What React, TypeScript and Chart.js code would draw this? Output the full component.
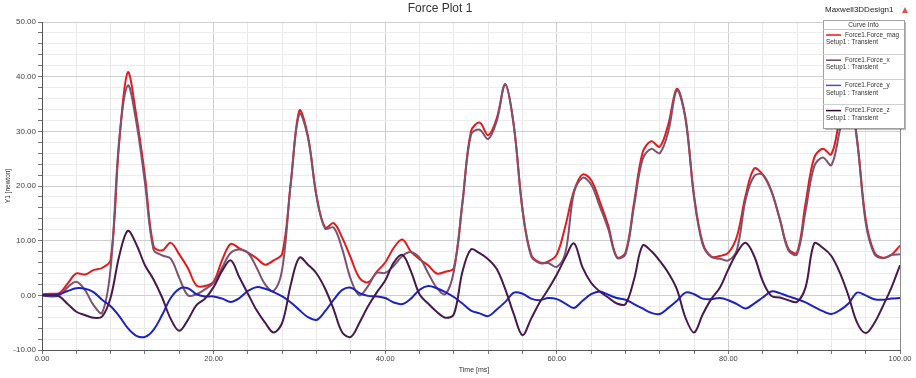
import { useEffect, useRef } from 'react';
import { Chart, registerables } from 'chart.js';

Chart.register(...registerables);

const TITLE = 'Force Plot 1';
const DESIGN_NAME = 'Maxwell3DDesign1';
const X_TITLE = 'Time [ms]';
const Y_TITLE = 'Y1 [newton]';
const LEGEND_HEADER = 'Curve Info';
const SETUP_LABEL = 'Setup1 : Transient';
const SERIES_NAMES = ['Force1.Force_mag', 'Force1.Force_x', 'Force1.Force_y', 'Force1.Force_z'];

const TIME_MS = [
  0, 1, 2, 3, 4, 5, 6, 7, 8, 9, 10, 11, 12, 13, 14, 15, 16, 17, 18, 19,
  20, 21, 22, 23, 24, 25, 26, 27, 28, 29, 30, 31, 32, 33, 34, 35, 36, 37, 38, 39,
  40, 41, 42, 43, 44, 45, 46, 47, 48, 49, 50, 51, 52, 53, 54, 55, 56, 57, 58, 59,
  60, 61, 62, 63, 64, 65, 66, 67, 68, 69, 70, 71, 72, 73, 74, 75, 76, 77, 78, 79,
  80, 81, 82, 83, 84, 85, 86, 87, 88, 89, 90, 91, 92, 93, 94, 95, 96, 97, 98, 99, 100,
];

const FORCE_MAG = [
  0.2, 0.3, 0.4, 2.2, 4.0, 3.8, 4.6, 5.0, 6.5, 28.0,
  40.8, 32.8, 21.8, 9.0, 8.2, 9.6, 7.5, 5.0, 1.8, 1.7,
  2.5, 6.5, 9.4, 8.6, 7.8, 6.8, 5.6, 6.4, 7.6, 20.6,
  33.8, 29.1, 18.2, 12.4, 13.2, 10.5, 6.8, 3.2, 2.4, 4.3,
  6.0, 8.7, 10.2, 8.0, 6.6, 5.5, 4.0, 4.3, 5.0, 16.9,
  30.0, 31.6, 29.3, 32.4, 38.6, 30.9, 15.7, 7.5, 6.0, 6.2,
  7.5, 12.7, 19.1, 22.1, 21.1, 17.2, 12.7, 7.0, 7.8, 16.9,
  26.1, 28.2, 27.2, 31.3, 37.8, 32.5, 18.2, 9.6, 7.1, 7.2,
  7.8, 10.8, 18.2, 23.2, 22.1, 19.1, 13.9, 8.5, 7.8, 16.9,
  25.2, 26.8, 25.8, 32.5, 38.0, 28.5, 13.9, 7.9, 6.9, 7.4, 9.1,
];

const FORCE_X = [
  0.0, -0.2, 0.0, 1.5, 2.5, 1.0, -1.8, -3.2, 5.0, 28.5,
  38.4, 31.6, 20.6, 8.4, 7.3, 6.7, 3.2, 0.0, 0.2, 1.1,
  2.3, 5.1, 7.8, 8.4, 7.8, 5.1, 2.0, 0.8, 4.8, 20.6,
  33.2, 28.8, 18.0, 12.2, 12.4, 8.4, 2.9, 0.0, 1.7, 4.1,
  4.1, 5.4, 7.2, 7.9, 6.9, 4.1, 1.4, 0.2, 4.4, 16.9,
  29.4, 30.3, 28.6, 31.9, 38.6, 30.9, 15.7, 7.2, 5.9, 5.9,
  5.2, 7.8, 18.8, 21.5, 20.3, 16.3, 12.1, 6.9, 7.5, 16.3,
  24.9, 26.8, 26.0, 30.0, 37.5, 32.2, 17.9, 9.3, 7.0, 6.7,
  6.4, 8.4, 17.5, 21.8, 22.1, 19.1, 13.9, 8.2, 7.5, 15.5,
  23.6, 25.2, 23.8, 30.3, 37.0, 28.2, 13.3, 7.6, 6.8, 7.4, 7.5,
];

const FORCE_Y = [
  0.0, 0.0, 0.2, 0.8, 1.3, 1.2, 0.6, -0.8, -2.0, -3.8,
  -6.0, -7.4, -7.6, -6.3, -3.6, -0.5, 1.2, 1.3, 0.2, -0.2,
  -0.2, -0.6, -1.2, -0.5, 0.8, 1.5, 1.2, 0.6, -0.2, -1.3,
  -2.7, -4.0, -4.5, -2.9, -0.8, 1.0, 1.4, 0.4, -0.1, -0.2,
  -0.5, -1.3, -1.6, -0.6, 1.0, 1.7, 1.3, 0.6, -0.3, -1.5,
  -2.8, -3.3, -3.8, -2.6, -1.2, 0.5, 0.3, -0.6, -0.9, -0.5,
  -0.7, -1.5, -2.3, -1.0, 0.2, 0.7, 0.1, -0.5, -0.8, -1.6,
  -2.4, -3.2, -3.4, -2.3, -1.0, 0.5, 0.2, -0.6, -0.7, -0.5,
  -0.9, -1.6, -2.4, -1.5, -0.4, 0.7, 0.4, -0.2, -0.7, -1.3,
  -2.1, -2.9, -3.4, -2.7, -1.5, 0.5, 0.0, -0.7, -0.8, -0.6, -0.5,
];

const FORCE_Z = [
  0.0, 0.0, -0.2, -1.6, -3.0, -3.6, -4.1, -3.9, -0.4, 7.2,
  11.8, 9.3, 5.5, 2.9, -0.4, -4.3, -6.5, -4.5, -1.8, -0.6,
  1.5, 4.5, 6.4, 3.3, 0.3, -2.7, -5.0, -6.8, -5.0, 2.0,
  6.9, 5.6, 4.0, 1.2, -2.6, -6.8, -7.6, -5.0, -2.0, 0.5,
  2.7, 6.0, 7.4, 4.4, 0.2, -1.5, -3.0, -4.1, -3.5, 4.3,
  8.4, 7.7, 6.6, 4.8, 1.1, -3.5, -7.3, -4.3, -1.3, 1.1,
  3.8, 6.9, 9.5, 5.1, 2.3, 0.7, -0.4, -1.5, -1.6, 2.9,
  9.1, 8.1, 6.3, 4.1, 1.1, -4.1, -6.8, -3.5, -0.7, 1.4,
  4.8, 7.8, 9.6, 7.2, 2.6, -0.1, -0.4, -0.9, -1.2, 1.5,
  9.5, 8.7, 7.2, 4.1, -0.1, -5.0, -6.9, -5.1, -2.0, 1.4, 5.5,
];

const SERIES_COLORS = ['#e3191c', '#7d526e', '#1c22c2', '#46184c'];
const LEGEND_COLORS = ['#e3191c', '#6a4a62', '#4d4fc0', '#2a0c2e'];

const FONT = '"Liberation Sans", Arial, sans-serif';

const decorPlugin = {
  id: 'decor',
  beforeDraw(chart: any) {
    const ctx = chart.ctx;
    ctx.save();
    ctx.fillStyle = '#ffffff';
    ctx.fillRect(0, 0, chart.width, chart.height);
    ctx.restore();
  },
  afterDraw(chart: any) {
    const ctx = chart.ctx;
    const area = chart.chartArea;
    ctx.save();

    // right border of plot
    ctx.strokeStyle = '#8a8a8a';
    ctx.lineWidth = 1;
    ctx.beginPath();
    ctx.moveTo(Math.round(area.right) + 0.5, area.top);
    ctx.lineTo(Math.round(area.right) + 0.5, area.bottom);
    ctx.stroke();

    // title
    ctx.fillStyle = '#333333';
    ctx.textAlign = 'center';
    ctx.textBaseline = 'middle';
    ctx.font = `12px ${FONT}`;
    ctx.fillText(TITLE, 440, 9);

    // design name + marker
    ctx.textAlign = 'left';
    ctx.font = `8px ${FONT}`;
    ctx.fillStyle = '#222222';
    ctx.fillText(DESIGN_NAME, 825, 10);
    ctx.fillStyle = '#d9534f';
    ctx.beginPath();
    ctx.moveTo(902, 13);
    ctx.lineTo(908, 13);
    ctx.lineTo(905, 7);
    ctx.closePath();
    ctx.fill();

    // axis titles
    ctx.fillStyle = '#333333';
    ctx.textAlign = 'center';
    ctx.font = `7px ${FONT}`;
    ctx.fillText(X_TITLE, 474, 370);
    ctx.save();
    ctx.translate(8, 186);
    ctx.rotate(-Math.PI / 2);
    ctx.font = `6.5px ${FONT}`;
    ctx.fillText(Y_TITLE, 0, 0);
    ctx.restore();

    // legend box
    const bx = 823, by = 20, bw = 81, bh = 108;
    ctx.fillStyle = 'rgba(0,0,0,0.28)';
    ctx.fillRect(bx + 2, by + 2, bw, bh);
    ctx.fillStyle = '#ffffff';
    ctx.fillRect(bx, by, bw, bh);
    ctx.strokeStyle = '#a0a0a0';
    ctx.strokeRect(bx + 0.5, by + 0.5, bw, bh);

    ctx.fillStyle = '#333333';
    ctx.font = `6.6px ${FONT}`;
    ctx.textAlign = 'center';
    ctx.fillText(LEGEND_HEADER, bx + bw / 2, 25);
    ctx.strokeStyle = '#c8c8c8';
    ctx.beginPath();
    ctx.moveTo(bx, 29.5);
    ctx.lineTo(bx + bw, 29.5);
    ctx.stroke();

    ctx.textAlign = 'left';
    ctx.font = `6.4px ${FONT}`;
    for (let i = 0; i < SERIES_NAMES.length; i++) {
      const y = 35 + i * 25.2;
      ctx.strokeStyle = LEGEND_COLORS[i];
      ctx.lineWidth = 1.5;
      ctx.beginPath();
      ctx.moveTo(826, y);
      ctx.lineTo(841, y);
      ctx.stroke();
      ctx.fillStyle = '#333333';
      ctx.fillText(SERIES_NAMES[i], 845, y);
      ctx.fillText(SETUP_LABEL, 826, y + 7.5);
      if (i < SERIES_NAMES.length - 1) {
        ctx.strokeStyle = '#d0d0d0';
        ctx.lineWidth = 1;
        ctx.beginPath();
        ctx.moveTo(bx, Math.round(y + 19) + 0.5);
        ctx.lineTo(bx + bw, Math.round(y + 19) + 0.5);
        ctx.stroke();
      }
    }
    ctx.restore();
  },
};

export default function App() {
  const canvasRef = useRef<HTMLCanvasElement | null>(null);

  useEffect(() => {
    if (!canvasRef.current) return;
    const seriesValues = [FORCE_MAG, FORCE_X, FORCE_Y, FORCE_Z];
    const datasets = seriesValues.map((vals, i) => ({
      label: SERIES_NAMES[i],
      data: TIME_MS.map((t, j) => ({ x: t, y: vals[j] })),
      borderColor: SERIES_COLORS[i],
      backgroundColor: SERIES_COLORS[i],
      borderWidth: 2,
      pointRadius: 0,
      tension: 0.35,
      fill: false,
      order: [3, 2, 1, 0][i],
    }));

    const chart = new Chart(canvasRef.current, {
      type: 'line',
      data: { datasets },
      options: {
        animation: false,
        responsive: true,
        maintainAspectRatio: false,
        layout: { padding: { top: 22, right: 16, left: 0, bottom: 0 } },
        plugins: {
          legend: { display: false },
          title: { display: false },
          tooltip: { enabled: false },
        },
        scales: {
          x: {
            type: 'linear',
            min: 0,
            max: 100,
            afterFit: (scale: any) => { scale.height = 28; },
            ticks: {
              stepSize: 4,
              autoSkip: false,
              maxRotation: 0,
              padding: 0,
              color: '#444444',
              font: { family: FONT, size: 7.5 },
              callback: (v: any) => (Number(v) % 20 === 0 ? Number(v).toFixed(2) : ''),
            },
            grid: {
              color: (c: any) => (c.tick && c.tick.value % 20 === 0 ? '#cfcfcf' : '#e9e9e9'),
              tickColor: '#777777',
              tickLength: 4,
            },
            border: { display: true, color: '#555555', width: 1 },
          },
          y: {
            min: -10,
            max: 50,
            afterFit: (scale: any) => { scale.width = 42; },
            ticks: {
              stepSize: 2,
              autoSkip: false,
              padding: 2,
              color: '#444444',
              font: { family: FONT, size: 8 },
              callback: (v: any) => (Number(v) % 10 === 0 ? Number(v).toFixed(2) : ''),
            },
            grid: {
              color: (c: any) => (c.tick && c.tick.value % 10 === 0 ? '#cfcfcf' : '#ececec'),
              tickColor: '#777777',
              tickLength: 4,
            },
            border: { display: true, color: '#555555', width: 1 },
          },
        },
      },
      plugins: [decorPlugin],
    });
    return () => chart.destroy();
  }, []);

  return (
    <div style={{ position: 'fixed', left: 0, top: 0, width: 916, height: 378, background: '#fff' }}>
      <canvas ref={canvasRef} />
    </div>
  );
}
